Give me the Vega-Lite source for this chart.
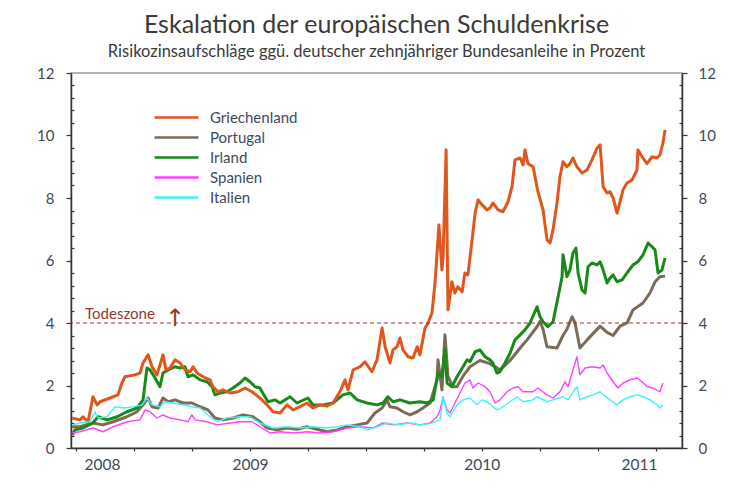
{
  "$schema": "https://vega.github.io/schema/vega-lite/v6.json",
  "width": 611,
  "height": 375,
  "autosize": {"type": "none"},
  "padding": {"left": 71, "top": 73, "right": 66, "bottom": 46},
  "background": "white",
  "config": {
    "view": {"stroke": "#9a9a9a", "strokeWidth": 1.5},
    "font": "Lato",
    "axis": {"labelFont": "Lato", "grid": false, "title": null}
  },
  "title": {
    "text": "Eskalation der europäischen Schuldenkrise",
    "subtitle": "Risikozinsaufschläge ggü. deutscher zehnjähriger Bundesanleihe in Prozent",
    "font": "Lato",
    "fontSize": 25,
    "fontWeight": "normal",
    "color": "#3a3a3a",
    "subtitleFont": "Lato",
    "subtitleFontSize": 16.5,
    "subtitleColor": "#3a3a3a",
    "anchor": "middle",
    "offset": 6,
    "subtitlePadding": 6
  },
  "datasets": {
    "spreads": [
      {"land":"Spanien","jahr":2008.733,"wert":0.48},{"land":"Spanien","jahr":2008.767,"wert":0.52},{"land":"Spanien","jahr":2008.823,"wert":0.64},{"land":"Spanien","jahr":2008.866,"wert":0.52},{"land":"Spanien","jahr":2008.910,"wert":0.68},{"land":"Spanien","jahr":2008.970,"wert":0.84},{"land":"Spanien","jahr":2009.026,"wert":0.90},{"land":"Spanien","jahr":2009.048,"wert":1.22},{"land":"Spanien","jahr":2009.069,"wert":1.16},{"land":"Spanien","jahr":2009.099,"wert":0.96},{"land":"Spanien","jahr":2009.125,"wert":1.06},{"land":"Spanien","jahr":2009.155,"wert":0.96},{"land":"Spanien","jahr":2009.199,"wert":0.90},{"land":"Spanien","jahr":2009.233,"wert":0.84},{"land":"Spanien","jahr":2009.250,"wert":1.06},{"land":"Spanien","jahr":2009.263,"wert":0.90},{"land":"Spanien","jahr":2009.315,"wert":0.84},{"land":"Spanien","jahr":2009.358,"wert":0.74},{"land":"Spanien","jahr":2009.414,"wert":0.80},{"land":"Spanien","jahr":2009.457,"wert":0.84},{"land":"Spanien","jahr":2009.509,"wert":0.84},{"land":"Spanien","jahr":2009.543,"wert":0.68},{"land":"Spanien","jahr":2009.587,"wert":0.48},{"land":"Spanien","jahr":2009.630,"wert":0.52},{"land":"Spanien","jahr":2009.686,"wert":0.48},{"land":"Spanien","jahr":2009.746,"wert":0.52},{"land":"Spanien","jahr":2009.802,"wert":0.48},{"land":"Spanien","jahr":2009.858,"wert":0.52},{"land":"Spanien","jahr":2009.919,"wert":0.64},{"land":"Spanien","jahr":2009.975,"wert":0.68},{"land":"Spanien","jahr":2010.031,"wert":0.64},{"land":"Spanien","jahr":2010.074,"wert":0.80},{"land":"Spanien","jahr":2010.117,"wert":0.74},{"land":"Spanien","jahr":2010.177,"wert":0.80},{"land":"Spanien","jahr":2010.233,"wert":0.74},{"land":"Spanien","jahr":2010.277,"wert":0.80},{"land":"Spanien","jahr":2010.307,"wert":1.00},{"land":"Spanien","jahr":2010.320,"wert":1.22},{"land":"Spanien","jahr":2010.333,"wert":1.64},{"land":"Spanien","jahr":2010.350,"wert":1.22},{"land":"Spanien","jahr":2010.363,"wert":1.12},{"land":"Spanien","jahr":2010.384,"wert":1.44},{"land":"Spanien","jahr":2010.406,"wert":1.76},{"land":"Spanien","jahr":2010.427,"wert":2.08},{"land":"Spanien","jahr":2010.449,"wert":2.18},{"land":"Spanien","jahr":2010.462,"wert":1.92},{"land":"Spanien","jahr":2010.484,"wert":2.08},{"land":"Spanien","jahr":2010.514,"wert":1.96},{"land":"Spanien","jahr":2010.535,"wert":1.80},{"land":"Spanien","jahr":2010.557,"wert":1.44},{"land":"Spanien","jahr":2010.578,"wert":1.54},{"land":"Spanien","jahr":2010.609,"wert":1.80},{"land":"Spanien","jahr":2010.634,"wert":1.92},{"land":"Spanien","jahr":2010.656,"wert":1.96},{"land":"Spanien","jahr":2010.678,"wert":1.80},{"land":"Spanien","jahr":2010.721,"wert":1.80},{"land":"Spanien","jahr":2010.742,"wert":1.92},{"land":"Spanien","jahr":2010.781,"wert":1.70},{"land":"Spanien","jahr":2010.807,"wert":1.60},{"land":"Spanien","jahr":2010.837,"wert":1.80},{"land":"Spanien","jahr":2010.859,"wert":2.12},{"land":"Spanien","jahr":2010.872,"wert":1.96},{"land":"Spanien","jahr":2010.893,"wert":2.50},{"land":"Spanien","jahr":2010.910,"wert":2.92},{"land":"Spanien","jahr":2010.923,"wert":2.34},{"land":"Spanien","jahr":2010.945,"wert":2.56},{"land":"Spanien","jahr":2010.975,"wert":2.60},{"land":"Spanien","jahr":2011.010,"wert":2.56},{"land":"Spanien","jahr":2011.023,"wert":2.66},{"land":"Spanien","jahr":2011.040,"wert":2.40},{"land":"Spanien","jahr":2011.066,"wert":2.12},{"land":"Spanien","jahr":2011.087,"wert":1.92},{"land":"Spanien","jahr":2011.109,"wert":2.08},{"land":"Spanien","jahr":2011.139,"wert":2.18},{"land":"Spanien","jahr":2011.169,"wert":2.24},{"land":"Spanien","jahr":2011.191,"wert":2.12},{"land":"Spanien","jahr":2011.212,"wert":1.96},{"land":"Spanien","jahr":2011.238,"wert":1.92},{"land":"Spanien","jahr":2011.268,"wert":1.80},{"land":"Spanien","jahr":2011.281,"wert":2.08},
      {"land":"Italien","jahr":2008.733,"wert":0.74},{"land":"Italien","jahr":2008.767,"wert":0.80},{"land":"Italien","jahr":2008.810,"wert":0.84},{"land":"Italien","jahr":2008.832,"wert":1.16},{"land":"Italien","jahr":2008.845,"wert":0.96},{"land":"Italien","jahr":2008.884,"wert":1.00},{"land":"Italien","jahr":2008.918,"wert":1.32},{"land":"Italien","jahr":2008.953,"wert":1.28},{"land":"Italien","jahr":2008.996,"wert":1.32},{"land":"Italien","jahr":2009.035,"wert":1.38},{"land":"Italien","jahr":2009.056,"wert":1.60},{"land":"Italien","jahr":2009.078,"wert":1.38},{"land":"Italien","jahr":2009.112,"wert":1.32},{"land":"Italien","jahr":2009.134,"wert":1.48},{"land":"Italien","jahr":2009.168,"wert":1.44},{"land":"Italien","jahr":2009.211,"wert":1.38},{"land":"Italien","jahr":2009.250,"wert":1.32},{"land":"Italien","jahr":2009.285,"wert":1.28},{"land":"Italien","jahr":2009.328,"wert":1.00},{"land":"Italien","jahr":2009.358,"wert":0.84},{"land":"Italien","jahr":2009.401,"wert":0.96},{"land":"Italien","jahr":2009.457,"wert":1.00},{"land":"Italien","jahr":2009.500,"wert":1.00},{"land":"Italien","jahr":2009.543,"wert":0.80},{"land":"Italien","jahr":2009.600,"wert":0.64},{"land":"Italien","jahr":2009.660,"wert":0.68},{"land":"Italien","jahr":2009.716,"wert":0.64},{"land":"Italien","jahr":2009.772,"wert":0.68},{"land":"Italien","jahr":2009.832,"wert":0.64},{"land":"Italien","jahr":2009.876,"wert":0.68},{"land":"Italien","jahr":2009.919,"wert":0.74},{"land":"Italien","jahr":2009.975,"wert":0.68},{"land":"Italien","jahr":2010.005,"wert":0.58},{"land":"Italien","jahr":2010.048,"wert":0.68},{"land":"Italien","jahr":2010.091,"wert":0.80},{"land":"Italien","jahr":2010.134,"wert":0.74},{"land":"Italien","jahr":2010.190,"wert":0.80},{"land":"Italien","jahr":2010.233,"wert":0.74},{"land":"Italien","jahr":2010.277,"wert":0.78},{"land":"Italien","jahr":2010.320,"wert":0.90},{"land":"Italien","jahr":2010.333,"wert":1.64},{"land":"Italien","jahr":2010.350,"wert":1.12},{"land":"Italien","jahr":2010.363,"wert":1.00},{"land":"Italien","jahr":2010.393,"wert":1.38},{"land":"Italien","jahr":2010.419,"wert":1.54},{"land":"Italien","jahr":2010.449,"wert":1.60},{"land":"Italien","jahr":2010.479,"wert":1.38},{"land":"Italien","jahr":2010.501,"wert":1.54},{"land":"Italien","jahr":2010.522,"wert":1.48},{"land":"Italien","jahr":2010.565,"wert":1.22},{"land":"Italien","jahr":2010.591,"wert":1.32},{"land":"Italien","jahr":2010.622,"wert":1.48},{"land":"Italien","jahr":2010.652,"wert":1.64},{"land":"Italien","jahr":2010.678,"wert":1.48},{"land":"Italien","jahr":2010.721,"wert":1.54},{"land":"Italien","jahr":2010.738,"wert":1.64},{"land":"Italien","jahr":2010.781,"wert":1.48},{"land":"Italien","jahr":2010.807,"wert":1.54},{"land":"Italien","jahr":2010.850,"wert":1.64},{"land":"Italien","jahr":2010.872,"wert":1.54},{"land":"Italien","jahr":2010.893,"wert":1.80},{"land":"Italien","jahr":2010.910,"wert":1.96},{"land":"Italien","jahr":2010.923,"wert":1.54},{"land":"Italien","jahr":2010.954,"wert":1.64},{"land":"Italien","jahr":2010.979,"wert":1.70},{"land":"Italien","jahr":2011.010,"wert":1.80},{"land":"Italien","jahr":2011.023,"wert":1.70},{"land":"Italien","jahr":2011.053,"wert":1.54},{"land":"Italien","jahr":2011.083,"wert":1.38},{"land":"Italien","jahr":2011.109,"wert":1.54},{"land":"Italien","jahr":2011.139,"wert":1.64},{"land":"Italien","jahr":2011.169,"wert":1.70},{"land":"Italien","jahr":2011.195,"wert":1.64},{"land":"Italien","jahr":2011.225,"wert":1.54},{"land":"Italien","jahr":2011.255,"wert":1.38},{"land":"Italien","jahr":2011.268,"wert":1.28},{"land":"Italien","jahr":2011.281,"wert":1.38},
      {"land":"Portugal","jahr":2008.733,"wert":0.68},{"land":"Portugal","jahr":2008.767,"wert":0.68},{"land":"Portugal","jahr":2008.823,"wert":0.80},{"land":"Portugal","jahr":2008.866,"wert":0.74},{"land":"Portugal","jahr":2008.910,"wert":0.84},{"land":"Portugal","jahr":2008.970,"wert":1.00},{"land":"Portugal","jahr":2009.013,"wert":1.16},{"land":"Portugal","jahr":2009.039,"wert":1.38},{"land":"Portugal","jahr":2009.061,"wert":1.60},{"land":"Portugal","jahr":2009.078,"wert":1.32},{"land":"Portugal","jahr":2009.104,"wert":1.28},{"land":"Portugal","jahr":2009.125,"wert":1.60},{"land":"Portugal","jahr":2009.147,"wert":1.48},{"land":"Portugal","jahr":2009.177,"wert":1.54},{"land":"Portugal","jahr":2009.211,"wert":1.44},{"land":"Portugal","jahr":2009.250,"wert":1.44},{"land":"Portugal","jahr":2009.285,"wert":1.32},{"land":"Portugal","jahr":2009.319,"wert":1.22},{"land":"Portugal","jahr":2009.349,"wert":0.96},{"land":"Portugal","jahr":2009.384,"wert":0.90},{"land":"Portugal","jahr":2009.427,"wert":0.96},{"land":"Portugal","jahr":2009.470,"wert":1.06},{"land":"Portugal","jahr":2009.513,"wert":1.00},{"land":"Portugal","jahr":2009.543,"wert":0.84},{"land":"Portugal","jahr":2009.574,"wert":0.64},{"land":"Portugal","jahr":2009.617,"wert":0.58},{"land":"Portugal","jahr":2009.660,"wert":0.64},{"land":"Portugal","jahr":2009.703,"wert":0.60},{"land":"Portugal","jahr":2009.746,"wert":0.68},{"land":"Portugal","jahr":2009.789,"wert":0.60},{"land":"Portugal","jahr":2009.832,"wert":0.52},{"land":"Portugal","jahr":2009.876,"wert":0.58},{"land":"Portugal","jahr":2009.919,"wert":0.68},{"land":"Portugal","jahr":2009.962,"wert":0.74},{"land":"Portugal","jahr":2010.005,"wert":0.80},{"land":"Portugal","jahr":2010.039,"wert":1.12},{"land":"Portugal","jahr":2010.070,"wert":1.28},{"land":"Portugal","jahr":2010.091,"wert":1.54},{"land":"Portugal","jahr":2010.104,"wert":1.32},{"land":"Portugal","jahr":2010.134,"wert":1.28},{"land":"Portugal","jahr":2010.160,"wert":1.16},{"land":"Portugal","jahr":2010.190,"wert":1.06},{"land":"Portugal","jahr":2010.221,"wert":1.16},{"land":"Portugal","jahr":2010.246,"wert":1.28},{"land":"Portugal","jahr":2010.277,"wert":1.44},{"land":"Portugal","jahr":2010.307,"wert":2.18},{"land":"Portugal","jahr":2010.311,"wert":2.82},{"land":"Portugal","jahr":2010.328,"wert":1.86},{"land":"Portugal","jahr":2010.341,"wert":3.62},{"land":"Portugal","jahr":2010.354,"wert":2.28},{"land":"Portugal","jahr":2010.376,"wert":1.96},{"land":"Portugal","jahr":2010.393,"wert":1.96},{"land":"Portugal","jahr":2010.419,"wert":2.30},{"land":"Portugal","jahr":2010.449,"wert":2.60},{"land":"Portugal","jahr":2010.492,"wert":2.80},{"land":"Portugal","jahr":2010.535,"wert":2.70},{"land":"Portugal","jahr":2010.578,"wert":2.50},{"land":"Portugal","jahr":2010.622,"wert":2.80},{"land":"Portugal","jahr":2010.665,"wert":3.20},{"land":"Portugal","jahr":2010.695,"wert":3.46},{"land":"Portugal","jahr":2010.738,"wert":3.88},{"land":"Portugal","jahr":2010.751,"wert":4.05},{"land":"Portugal","jahr":2010.764,"wert":3.80},{"land":"Portugal","jahr":2010.781,"wert":3.24},{"land":"Portugal","jahr":2010.824,"wert":3.20},{"land":"Portugal","jahr":2010.850,"wert":3.60},{"land":"Portugal","jahr":2010.867,"wert":3.80},{"land":"Portugal","jahr":2010.889,"wert":4.20},{"land":"Portugal","jahr":2010.902,"wert":4.00},{"land":"Portugal","jahr":2010.923,"wert":3.20},{"land":"Portugal","jahr":2010.954,"wert":3.46},{"land":"Portugal","jahr":2011.010,"wert":3.90},{"land":"Portugal","jahr":2011.040,"wert":3.70},{"land":"Portugal","jahr":2011.066,"wert":3.60},{"land":"Portugal","jahr":2011.096,"wert":3.90},{"land":"Portugal","jahr":2011.126,"wert":4.00},{"land":"Portugal","jahr":2011.152,"wert":4.42},{"land":"Portugal","jahr":2011.195,"wert":4.64},{"land":"Portugal","jahr":2011.225,"wert":4.96},{"land":"Portugal","jahr":2011.247,"wert":5.32},{"land":"Portugal","jahr":2011.268,"wert":5.48},{"land":"Portugal","jahr":2011.290,"wert":5.50},
      {"land":"Irland","jahr":2008.733,"wert":0.42},{"land":"Irland","jahr":2008.746,"wert":0.58},{"land":"Irland","jahr":2008.780,"wert":0.64},{"land":"Irland","jahr":2008.823,"wert":0.80},{"land":"Irland","jahr":2008.845,"wert":1.00},{"land":"Irland","jahr":2008.884,"wert":0.90},{"land":"Irland","jahr":2008.927,"wert":1.00},{"land":"Irland","jahr":2008.970,"wert":1.16},{"land":"Irland","jahr":2009.013,"wert":1.28},{"land":"Irland","jahr":2009.039,"wert":1.54},{"land":"Irland","jahr":2009.056,"wert":2.56},{"land":"Irland","jahr":2009.069,"wert":2.50},{"land":"Irland","jahr":2009.091,"wert":2.24},{"land":"Irland","jahr":2009.112,"wert":1.96},{"land":"Irland","jahr":2009.125,"wert":2.40},{"land":"Irland","jahr":2009.147,"wert":2.50},{"land":"Irland","jahr":2009.177,"wert":2.60},{"land":"Irland","jahr":2009.199,"wert":2.56},{"land":"Irland","jahr":2009.220,"wert":2.60},{"land":"Irland","jahr":2009.233,"wert":2.28},{"land":"Irland","jahr":2009.255,"wert":2.34},{"land":"Irland","jahr":2009.285,"wert":2.18},{"land":"Irland","jahr":2009.315,"wert":2.12},{"land":"Irland","jahr":2009.337,"wert":1.96},{"land":"Irland","jahr":2009.349,"wert":1.70},{"land":"Irland","jahr":2009.371,"wert":1.76},{"land":"Irland","jahr":2009.401,"wert":1.80},{"land":"Irland","jahr":2009.427,"wert":1.92},{"land":"Irland","jahr":2009.457,"wert":2.08},{"land":"Irland","jahr":2009.479,"wert":2.24},{"land":"Irland","jahr":2009.500,"wert":2.12},{"land":"Irland","jahr":2009.522,"wert":1.96},{"land":"Irland","jahr":2009.543,"wert":1.92},{"land":"Irland","jahr":2009.565,"wert":1.64},{"land":"Irland","jahr":2009.578,"wert":1.48},{"land":"Irland","jahr":2009.608,"wert":1.54},{"land":"Irland","jahr":2009.630,"wert":1.44},{"land":"Irland","jahr":2009.673,"wert":1.64},{"land":"Irland","jahr":2009.703,"wert":1.44},{"land":"Irland","jahr":2009.750,"wert":1.60},{"land":"Irland","jahr":2009.772,"wert":1.38},{"land":"Irland","jahr":2009.815,"wert":1.38},{"land":"Irland","jahr":2009.858,"wert":1.44},{"land":"Irland","jahr":2009.901,"wert":1.70},{"land":"Irland","jahr":2009.932,"wert":1.76},{"land":"Irland","jahr":2009.962,"wert":1.54},{"land":"Irland","jahr":2010.005,"wert":1.44},{"land":"Irland","jahr":2010.048,"wert":1.38},{"land":"Irland","jahr":2010.074,"wert":1.44},{"land":"Irland","jahr":2010.095,"wert":1.64},{"land":"Irland","jahr":2010.117,"wert":1.48},{"land":"Irland","jahr":2010.147,"wert":1.54},{"land":"Irland","jahr":2010.190,"wert":1.44},{"land":"Irland","jahr":2010.233,"wert":1.48},{"land":"Irland","jahr":2010.264,"wert":1.44},{"land":"Irland","jahr":2010.290,"wert":1.54},{"land":"Irland","jahr":2010.311,"wert":2.40},{"land":"Irland","jahr":2010.328,"wert":2.28},{"land":"Irland","jahr":2010.341,"wert":3.14},{"land":"Irland","jahr":2010.350,"wert":2.08},{"land":"Irland","jahr":2010.371,"wert":1.96},{"land":"Irland","jahr":2010.393,"wert":2.28},{"land":"Irland","jahr":2010.419,"wert":2.60},{"land":"Irland","jahr":2010.436,"wert":2.82},{"land":"Irland","jahr":2010.449,"wert":2.76},{"land":"Irland","jahr":2010.471,"wert":3.08},{"land":"Irland","jahr":2010.492,"wert":3.14},{"land":"Irland","jahr":2010.514,"wert":2.92},{"land":"Irland","jahr":2010.535,"wert":2.82},{"land":"Irland","jahr":2010.548,"wert":2.72},{"land":"Irland","jahr":2010.565,"wert":2.40},{"land":"Irland","jahr":2010.578,"wert":2.44},{"land":"Irland","jahr":2010.600,"wert":2.72},{"land":"Irland","jahr":2010.622,"wert":3.04},{"land":"Irland","jahr":2010.643,"wert":3.46},{"land":"Irland","jahr":2010.665,"wert":3.62},{"land":"Irland","jahr":2010.686,"wert":3.78},{"land":"Irland","jahr":2010.708,"wert":4.00},{"land":"Irland","jahr":2010.738,"wert":4.52},{"land":"Irland","jahr":2010.751,"wert":4.20},{"land":"Irland","jahr":2010.764,"wert":4.04},{"land":"Irland","jahr":2010.785,"wert":3.88},{"land":"Irland","jahr":2010.807,"wert":4.04},{"land":"Irland","jahr":2010.829,"wert":4.84},{"land":"Irland","jahr":2010.846,"wert":5.48},{"land":"Irland","jahr":2010.850,"wert":6.18},{"land":"Irland","jahr":2010.867,"wert":5.48},{"land":"Irland","jahr":2010.880,"wert":5.70},{"land":"Irland","jahr":2010.893,"wert":6.24},{"land":"Irland","jahr":2010.906,"wert":6.40},{"land":"Irland","jahr":2010.915,"wert":5.60},{"land":"Irland","jahr":2010.932,"wert":5.06},{"land":"Irland","jahr":2010.945,"wert":4.96},{"land":"Irland","jahr":2010.958,"wert":5.80},{"land":"Irland","jahr":2010.975,"wert":5.92},{"land":"Irland","jahr":2010.997,"wert":5.86},{"land":"Irland","jahr":2011.010,"wert":5.96},{"land":"Irland","jahr":2011.023,"wert":5.70},{"land":"Irland","jahr":2011.040,"wert":5.28},{"land":"Irland","jahr":2011.053,"wert":5.44},{"land":"Irland","jahr":2011.066,"wert":5.54},{"land":"Irland","jahr":2011.083,"wert":5.32},{"land":"Irland","jahr":2011.105,"wert":5.38},{"land":"Irland","jahr":2011.126,"wert":5.60},{"land":"Irland","jahr":2011.152,"wert":5.86},{"land":"Irland","jahr":2011.173,"wert":5.96},{"land":"Irland","jahr":2011.195,"wert":6.18},{"land":"Irland","jahr":2011.217,"wert":6.56},{"land":"Irland","jahr":2011.234,"wert":6.44},{"land":"Irland","jahr":2011.247,"wert":6.34},{"land":"Irland","jahr":2011.260,"wert":5.60},{"land":"Irland","jahr":2011.277,"wert":5.70},{"land":"Irland","jahr":2011.290,"wert":6.08},
      {"land":"Griechenland","jahr":2008.733,"wert":0.96},{"land":"Griechenland","jahr":2008.767,"wert":0.90},{"land":"Griechenland","jahr":2008.780,"wert":1.00},{"land":"Griechenland","jahr":2008.802,"wert":0.84},{"land":"Griechenland","jahr":2008.823,"wert":1.64},{"land":"Griechenland","jahr":2008.841,"wert":1.38},{"land":"Griechenland","jahr":2008.854,"wert":1.48},{"land":"Griechenland","jahr":2008.897,"wert":1.60},{"land":"Griechenland","jahr":2008.931,"wert":1.70},{"land":"Griechenland","jahr":2008.948,"wert":2.08},{"land":"Griechenland","jahr":2008.961,"wert":2.28},{"land":"Griechenland","jahr":2009.004,"wert":2.34},{"land":"Griechenland","jahr":2009.026,"wert":2.40},{"land":"Griechenland","jahr":2009.039,"wert":2.72},{"land":"Griechenland","jahr":2009.061,"wert":2.98},{"land":"Griechenland","jahr":2009.078,"wert":2.60},{"land":"Griechenland","jahr":2009.099,"wert":2.34},{"land":"Griechenland","jahr":2009.112,"wert":2.66},{"land":"Griechenland","jahr":2009.125,"wert":2.98},{"land":"Griechenland","jahr":2009.138,"wert":2.50},{"land":"Griechenland","jahr":2009.155,"wert":2.56},{"land":"Griechenland","jahr":2009.177,"wert":2.82},{"land":"Griechenland","jahr":2009.199,"wert":2.72},{"land":"Griechenland","jahr":2009.220,"wert":2.50},{"land":"Griechenland","jahr":2009.242,"wert":2.44},{"land":"Griechenland","jahr":2009.255,"wert":2.60},{"land":"Griechenland","jahr":2009.272,"wert":2.40},{"land":"Griechenland","jahr":2009.298,"wert":2.28},{"land":"Griechenland","jahr":2009.328,"wert":2.18},{"land":"Griechenland","jahr":2009.341,"wert":1.96},{"land":"Griechenland","jahr":2009.362,"wert":1.80},{"land":"Griechenland","jahr":2009.384,"wert":1.86},{"land":"Griechenland","jahr":2009.414,"wert":1.76},{"land":"Griechenland","jahr":2009.449,"wert":1.80},{"land":"Griechenland","jahr":2009.479,"wert":1.92},{"land":"Griechenland","jahr":2009.509,"wert":1.80},{"land":"Griechenland","jahr":2009.543,"wert":1.60},{"land":"Griechenland","jahr":2009.574,"wert":1.38},{"land":"Griechenland","jahr":2009.600,"wert":1.16},{"land":"Griechenland","jahr":2009.630,"wert":1.12},{"land":"Griechenland","jahr":2009.660,"wert":1.38},{"land":"Griechenland","jahr":2009.686,"wert":1.22},{"land":"Griechenland","jahr":2009.716,"wert":1.32},{"land":"Griechenland","jahr":2009.746,"wert":1.44},{"land":"Griechenland","jahr":2009.772,"wert":1.28},{"land":"Griechenland","jahr":2009.802,"wert":1.38},{"land":"Griechenland","jahr":2009.832,"wert":1.34},{"land":"Griechenland","jahr":2009.858,"wert":1.44},{"land":"Griechenland","jahr":2009.888,"wert":1.80},{"land":"Griechenland","jahr":2009.910,"wert":2.18},{"land":"Griechenland","jahr":2009.923,"wert":1.86},{"land":"Griechenland","jahr":2009.945,"wert":2.50},{"land":"Griechenland","jahr":2009.975,"wert":2.60},{"land":"Griechenland","jahr":2009.996,"wert":2.76},{"land":"Griechenland","jahr":2010.026,"wert":2.44},{"land":"Griechenland","jahr":2010.048,"wert":2.82},{"land":"Griechenland","jahr":2010.070,"wert":3.84},{"land":"Griechenland","jahr":2010.083,"wert":3.24},{"land":"Griechenland","jahr":2010.104,"wert":2.72},{"land":"Griechenland","jahr":2010.117,"wert":3.14},{"land":"Griechenland","jahr":2010.134,"wert":3.24},{"land":"Griechenland","jahr":2010.147,"wert":3.52},{"land":"Griechenland","jahr":2010.160,"wert":3.14},{"land":"Griechenland","jahr":2010.182,"wert":2.92},{"land":"Griechenland","jahr":2010.203,"wert":2.88},{"land":"Griechenland","jahr":2010.221,"wert":3.24},{"land":"Griechenland","jahr":2010.233,"wert":2.98},{"land":"Griechenland","jahr":2010.255,"wert":3.84},{"land":"Griechenland","jahr":2010.268,"wert":4.00},{"land":"Griechenland","jahr":2010.285,"wert":4.32},{"land":"Griechenland","jahr":2010.298,"wert":5.28},{"land":"Griechenland","jahr":2010.302,"wert":5.70},{"land":"Griechenland","jahr":2010.315,"wert":7.14},{"land":"Griechenland","jahr":2010.328,"wert":5.70},{"land":"Griechenland","jahr":2010.333,"wert":6.12},{"land":"Griechenland","jahr":2010.346,"wert":9.54},{"land":"Griechenland","jahr":2010.354,"wert":4.42},{"land":"Griechenland","jahr":2010.371,"wert":5.32},{"land":"Griechenland","jahr":2010.384,"wert":4.96},{"land":"Griechenland","jahr":2010.397,"wert":5.16},{"land":"Griechenland","jahr":2010.415,"wert":5.00},{"land":"Griechenland","jahr":2010.427,"wert":5.60},{"land":"Griechenland","jahr":2010.440,"wert":5.54},{"land":"Griechenland","jahr":2010.458,"wert":6.66},{"land":"Griechenland","jahr":2010.471,"wert":7.52},{"land":"Griechenland","jahr":2010.484,"wert":7.94},{"land":"Griechenland","jahr":2010.501,"wert":7.78},{"land":"Griechenland","jahr":2010.522,"wert":7.62},{"land":"Griechenland","jahr":2010.535,"wert":7.68},{"land":"Griechenland","jahr":2010.548,"wert":7.84},{"land":"Griechenland","jahr":2010.570,"wert":7.62},{"land":"Griechenland","jahr":2010.591,"wert":7.56},{"land":"Griechenland","jahr":2010.613,"wert":7.88},{"land":"Griechenland","jahr":2010.630,"wert":8.36},{"land":"Griechenland","jahr":2010.643,"wert":9.22},{"land":"Griechenland","jahr":2010.665,"wert":9.28},{"land":"Griechenland","jahr":2010.678,"wert":9.06},{"land":"Griechenland","jahr":2010.686,"wert":9.54},{"land":"Griechenland","jahr":2010.699,"wert":9.10},{"land":"Griechenland","jahr":2010.721,"wert":9.00},{"land":"Griechenland","jahr":2010.742,"wert":8.20},{"land":"Griechenland","jahr":2010.764,"wert":7.62},{"land":"Griechenland","jahr":2010.781,"wert":6.66},{"land":"Griechenland","jahr":2010.794,"wert":6.56},{"land":"Griechenland","jahr":2010.807,"wert":6.98},{"land":"Griechenland","jahr":2010.824,"wert":7.84},{"land":"Griechenland","jahr":2010.837,"wert":8.68},{"land":"Griechenland","jahr":2010.850,"wert":9.16},{"land":"Griechenland","jahr":2010.867,"wert":9.00},{"land":"Griechenland","jahr":2010.880,"wert":9.10},{"land":"Griechenland","jahr":2010.893,"wert":9.28},{"land":"Griechenland","jahr":2010.910,"wert":9.00},{"land":"Griechenland","jahr":2010.932,"wert":8.80},{"land":"Griechenland","jahr":2010.954,"wert":8.90},{"land":"Griechenland","jahr":2010.975,"wert":9.22},{"land":"Griechenland","jahr":2010.997,"wert":9.60},{"land":"Griechenland","jahr":2011.010,"wert":9.70},{"land":"Griechenland","jahr":2011.023,"wert":8.36},{"land":"Griechenland","jahr":2011.040,"wert":8.16},{"land":"Griechenland","jahr":2011.053,"wert":8.20},{"land":"Griechenland","jahr":2011.066,"wert":8.00},{"land":"Griechenland","jahr":2011.083,"wert":7.52},{"land":"Griechenland","jahr":2011.096,"wert":7.88},{"land":"Griechenland","jahr":2011.109,"wert":8.26},{"land":"Griechenland","jahr":2011.126,"wert":8.48},{"land":"Griechenland","jahr":2011.148,"wert":8.58},{"land":"Griechenland","jahr":2011.169,"wert":8.90},{"land":"Griechenland","jahr":2011.173,"wert":9.54},{"land":"Griechenland","jahr":2011.191,"wert":9.32},{"land":"Griechenland","jahr":2011.212,"wert":9.10},{"land":"Griechenland","jahr":2011.234,"wert":9.32},{"land":"Griechenland","jahr":2011.255,"wert":9.28},{"land":"Griechenland","jahr":2011.268,"wert":9.38},{"land":"Griechenland","jahr":2011.281,"wert":9.76},{"land":"Griechenland","jahr":2011.290,"wert":10.18}
    ]
  },
  "layer": [
    {
      "data": {"name": "spreads"},
      "transform": [{"filter": {"field": "land", "oneOf": ["Portugal", "Irland", "Griechenland"]}}],
      "mark": {"type": "line", "strokeWidth": 3, "strokeJoin": "round"},
      "encoding": {
        "x": {
          "field": "jahr", "type": "quantitative",
          "scale": {"domain": [2008.7284, 2011.3632], "nice": false, "zero": false},
          "axis": {
            "orient": "bottom",
            "values": [2008.75, 2009, 2009.25, 2009.5, 2009.75, 2010, 2010.25, 2010.5, 2010.75, 2011, 2011.25],
            "labels": false, "tickSize": 3, "tickColor": "#333333", "tickWidth": 1.2,
            "domainColor": "#333333", "domainWidth": 1.5
          }
        },
        "y": {
          "field": "wert", "type": "quantitative",
          "scale": {"domain": [0, 12], "nice": false, "zero": true},
          "axis": {
            "orient": "left",
            "values": [0, 2, 4, 6, 8, 10, 12],
            "tickSize": 5, "tickColor": "#333333", "tickWidth": 1.2,
            "labelPadding": 12, "labelFontSize": 15, "labelColor": "#3e4a5c", "labelFlush": false,
            "domainColor": "#333333", "domainWidth": 1.5
          }
        },
        "color": {
          "field": "land", "type": "nominal",
          "scale": {
            "domain": ["Griechenland", "Portugal", "Irland", "Spanien", "Italien"],
            "range": ["#e0561d", "#7b6a55", "#178a17", "#ff3fff", "#3ff2f7"]
          },
          "legend": {
            "title": null, "orient": "none", "legendX": 98, "legendY": 37,
            "symbolType": "M-4,0H4", "symbolSize": 121, "symbolStrokeWidth": 2.5,
            "labelFontSize": 15, "labelFont": "Lato", "labelColor": "#3e4a5c",
            "labelOffset": 26, "rowPadding": 4, "padding": 0
          }
        }
      }
    },
    {
      "data": {"name": "spreads"},
      "transform": [{"filter": {"field": "land", "oneOf": ["Spanien", "Italien"]}}],
      "mark": {"type": "line", "strokeWidth": 1.4, "strokeJoin": "round"},
      "encoding": {
        "x": {"field": "jahr", "type": "quantitative", "axis": null},
        "y": {
          "field": "wert", "type": "quantitative",
          "axis": {
            "orient": "left",
            "values": [0.4, 0.8, 1.2, 1.6, 2.4, 2.8, 3.2, 3.6, 4.4, 4.8, 5.2, 5.6, 6.4, 6.8, 7.2, 7.6, 8.4, 8.8, 9.2, 9.6, 10.4, 10.8, 11.2, 11.6],
            "labels": false, "domain": false, "tickSize": -3, "tickColor": "#333333", "tickWidth": 1.2
          }
        },
        "color": {"field": "land", "type": "nominal"}
      }
    },
    {
      "data": {"values": [{"grenze": 4}]},
      "mark": {"type": "rule", "color": "#943634", "strokeWidth": 1.2, "strokeDash": [4, 3]},
      "encoding": {
        "y": {
          "field": "grenze", "type": "quantitative",
          "axis": {
            "orient": "right",
            "values": [0, 2, 4, 6, 8, 10, 12],
            "tickSize": 5, "tickColor": "#333333", "tickWidth": 1.2,
            "labelPadding": 11, "labelFontSize": 15, "labelColor": "#3e4a5c", "labelFlush": false,
            "domainColor": "#333333", "domainWidth": 1.5
          }
        }
      }
    },
    {
      "data": {"values": [{"jahr": 2008.789, "grenze": 4, "text": "Todeszone"}]},
      "mark": {"type": "text", "align": "left", "baseline": "alphabetic", "dy": -4, "font": "Lato", "fontSize": 15, "color": "#943634"},
      "encoding": {
        "x": {
          "field": "jahr", "type": "quantitative",
          "axis": {
            "orient": "bottom",
            "values": [2008.862, 2009.5, 2010.5, 2011.178],
            "labelExpr": "floor(datum.value)",
            "domain": false, "ticks": false, "tickSize": 0,
            "labelPadding": 9, "labelFontSize": 15.5, "labelColor": "#3e4a5c",
            "labelFlush": false, "labelOverlap": false, "labelBound": false
          }
        },
        "y": {
          "field": "grenze", "type": "quantitative",
          "axis": {
            "orient": "right",
            "values": [0.4, 0.8, 1.2, 1.6, 2.4, 2.8, 3.2, 3.6, 4.4, 4.8, 5.2, 5.6, 6.4, 6.8, 7.2, 7.6, 8.4, 8.8, 9.2, 9.6, 10.4, 10.8, 11.2, 11.6],
            "labels": false, "domain": false, "tickSize": -3, "tickColor": "#333333", "tickWidth": 1.2
          }
        },
        "text": {"field": "text"}
      }
    },
    {
      "data": {"values": [{"jahr": 2009.177, "grenze": 4, "pfeil": "↑"}]},
      "mark": {"type": "text", "align": "center", "baseline": "alphabetic", "dy": 3, "font": "DejaVu Sans", "fontSize": 24, "color": "#943634"},
      "encoding": {
        "x": {"field": "jahr", "type": "quantitative", "axis": null},
        "y": {"field": "grenze", "type": "quantitative", "axis": null},
        "text": {"field": "pfeil"}
      }
    }
  ],
  "resolve": {"axis": {"x": "independent", "y": "independent"}}
}
